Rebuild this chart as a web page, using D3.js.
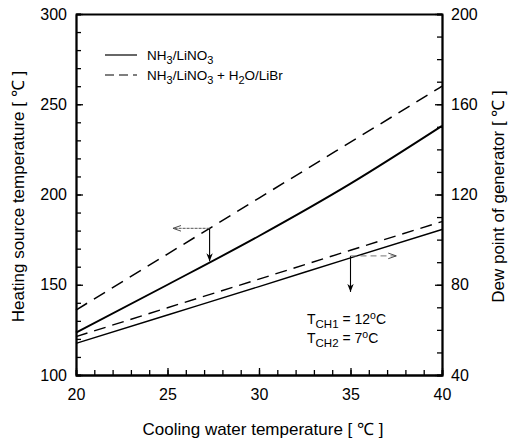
<!DOCTYPE html>
<html>
<head>
<meta charset="utf-8">
<script src="https://cdn.jsdelivr.net/npm/d3@7"></script>
<style>
body{margin:0;background:#fff;}
svg{display:block;font-family:"Liberation Sans",Arial,sans-serif;}
</style>
</head>
<body>
<svg id="c" width="514" height="444"></svg>
<script>
const coolingTemp = [20, 25, 30, 35, 40];
const heatSolid = [123.5, 150, 177, 206, 238];
const heatDashed = [136, 167, 198, 229, 260];
const dewSolid = [54, 66.6, 79.2, 91.9, 104.5];
const dewDashed = [57, 69.8, 82.5, 95.3, 108];
const xTicks = [20, 25, 30, 35, 40];
const leftTicks = [100, 150, 200, 250, 300];
const rightTicks = [40, 80, 120, 160, 200];

const svg = d3.select("#c");
const L = 76, R = 442, T = 14, B = 375;
const x = d3.scaleLinear().domain([20, 40]).range([L, R]);
const yL = d3.scaleLinear().domain([100, 300]).range([B, T]);
const yR = d3.scaleLinear().domain([40, 200]).range([B, T]);

const g = svg.append("g");
function styleAxis(sel, fs){
  sel.selectAll("path").attr("stroke","#000").attr("stroke-width",1.8);
  sel.selectAll("line").attr("stroke","#000").attr("stroke-width",1.3);
  sel.selectAll("text").attr("font-size",fs).attr("fill","#000").attr("font-family","Liberation Sans, Arial, sans-serif");
}
// minor ticks
g.append("g").attr("transform",`translate(0,${B})`)
  .call(d3.axisBottom(x).tickValues(d3.range(20,41,1)).tickSize(-5).tickFormat(""))
  .call(s=>styleAxis(s,14));
g.append("g").attr("transform",`translate(${L},0)`)
  .call(d3.axisLeft(yL).tickValues(d3.range(100,301,10)).tickSize(-5).tickFormat(""))
  .call(s=>styleAxis(s,14));
g.append("g").attr("transform",`translate(${R},0)`)
  .call(d3.axisRight(yR).tickValues(d3.range(40,201,10)).tickSize(-5).tickFormat(""))
  .call(s=>styleAxis(s,14));
g.append("g").attr("transform",`translate(0,${T})`)
  .call(d3.axisTop(x).tickValues([]).tickSizeOuter(0))
  .call(s=>styleAxis(s,14));
// major with labels
g.append("g").attr("transform",`translate(0,${B})`)
  .call(d3.axisBottom(x).tickValues(xTicks).tickSize(-7).tickSizeOuter(0).tickPadding(14).tickFormat(d3.format("d")))
  .call(s=>styleAxis(s,16));
g.append("g").attr("transform",`translate(${L},0)`)
  .call(d3.axisLeft(yL).tickValues(leftTicks).tickSize(-7).tickSizeOuter(0).tickPadding(9).tickFormat(d3.format("d")))
  .call(s=>styleAxis(s,16));
g.append("g").attr("transform",`translate(${R},0)`)
  .call(d3.axisRight(yR).tickValues(rightTicks).tickSize(-7).tickSizeOuter(0).tickPadding(9).tickFormat(d3.format("d")))
  .call(s=>styleAxis(s,16));

// lines
const lineL = d3.line().x((d,i)=>x(coolingTemp[i])).y(d=>yL(d)).curve(d3.curveMonotoneX);
const lineR = d3.line().x((d,i)=>x(coolingTemp[i])).y(d=>yR(d)).curve(d3.curveMonotoneX);
g.append("path").attr("d",lineL(heatSolid)).attr("fill","none").attr("stroke","#000").attr("stroke-width",1.9);
g.append("path").attr("d",lineL(heatDashed)).attr("fill","none").attr("stroke","#000").attr("stroke-width",1.5).attr("stroke-dasharray","13,8");
g.append("path").attr("d",lineR(dewSolid)).attr("fill","none").attr("stroke","#000").attr("stroke-width",1.4);
g.append("path").attr("d",lineR(dewDashed)).attr("fill","none").attr("stroke","#000").attr("stroke-width",1.4).attr("stroke-dasharray","12,7");

// arrows
const defs = svg.append("defs");
defs.append("marker").attr("id","ah").attr("viewBox","0 0 10 10").attr("refX",10).attr("refY",5)
  .attr("markerWidth",8).attr("markerHeight",9).attr("orient","auto-start-reverse").attr("markerUnits","userSpaceOnUse")
  .append("path").attr("d","M0,1 L10,5 L0,9 L3,5 Z").attr("fill","#000");
defs.append("marker").attr("id","ah2").attr("viewBox","0 0 10 10").attr("refX",10).attr("refY",5)
  .attr("markerWidth",12).attr("markerHeight",8).attr("orient","auto").attr("markerUnits","userSpaceOnUse")
  .append("path").attr("d","M0,1.5 L10,5 L0,8.5").attr("fill","none").attr("stroke","#444").attr("stroke-width",1.2);

// arrow 1 (heating source -> left axis)
const ax1 = 27.3;
const ay1 = yL(d3.interpolateNumber(167,198)((ax1-25)/5));
const ay1b = yL(d3.interpolateNumber(150,177)((ax1-25)/5));
g.append("line").attr("x1",x(ax1)).attr("y1",ay1).attr("x2",x(ax1)).attr("y2",ay1b-1)
  .attr("stroke","#000").attr("stroke-width",1.1).attr("marker-end","url(#ah)");
g.append("line").attr("x1",x(ax1)).attr("y1",ay1).attr("x2",x(25.3)).attr("y2",ay1)
  .attr("stroke","#555").attr("stroke-width",1).attr("stroke-dasharray","3,1").attr("marker-end","url(#ah2)");

// arrow 2 (dew point -> right axis)
const ax2 = 35;
const ay2 = yR(91.9)-2;
g.append("line").attr("x1",x(ax2)).attr("y1",ay2).attr("x2",x(ax2)).attr("y2",ay2+36)
  .attr("stroke","#000").attr("stroke-width",1.1).attr("marker-end","url(#ah)");
g.append("line").attr("x1",x(ax2)).attr("y1",ay2).attr("x2",x(37.5)).attr("y2",ay2)
  .attr("stroke","#777").attr("stroke-width",1).attr("stroke-dasharray","6,4").attr("marker-end","url(#ah2)");

// legend
const lg = g.append("g");
lg.append("line").attr("x1",105).attr("x2",137).attr("y1",55).attr("y2",55).attr("stroke","#000").attr("stroke-width",1.2);
lg.append("line").attr("x1",105).attr("x2",137).attr("y1",75).attr("y2",75).attr("stroke","#000").attr("stroke-width",1.2).attr("stroke-dasharray","9,5");
const t1 = lg.append("text").attr("x",147).attr("y",60).attr("font-size",13.5);
t1.append("tspan").text("NH");
t1.append("tspan").attr("dy",4).attr("font-size",11).text("3");
t1.append("tspan").attr("dy",-4).text("/LiNO");
t1.append("tspan").attr("dy",4).attr("font-size",11).text("3");
const t2 = lg.append("text").attr("x",147).attr("y",80).attr("font-size",13.5);
t2.append("tspan").text("NH");
t2.append("tspan").attr("dy",4).attr("font-size",11).text("3");
t2.append("tspan").attr("dy",-4).text("/LiNO");
t2.append("tspan").attr("dy",4).attr("font-size",11).text("3");
t2.append("tspan").attr("dy",-4).text(" + H");
t2.append("tspan").attr("dy",4).attr("font-size",11).text("2");
t2.append("tspan").attr("dy",-4).text("O/LiBr");

// T_CH annotations
function tch(y, sub, val){
  const t = g.append("text").attr("x",307).attr("y",y).attr("font-size",14);
  t.append("tspan").text("T");
  t.append("tspan").attr("dy",4).attr("font-size",11.5).text(sub);
  t.append("tspan").attr("dy",-4).text(" = "+val);
  t.append("tspan").attr("dy",-5).attr("font-size",10.5).text("o");
  t.append("tspan").attr("dy",5).text("C");
}
tch(324, "CH1", "12");
tch(343, "CH2", "7");

// axis titles
svg.append("text").attr("x",(L+R)/2+4).attr("y",435).attr("text-anchor","middle").attr("font-size",17).text("Cooling water temperature [ ℃ ]");
svg.append("text").attr("transform",`translate(24,${(T+B)/2+2}) rotate(-90)`).attr("text-anchor","middle").attr("font-size",17).text("Heating source temperature [ ℃ ]");
svg.append("text").attr("transform",`translate(504,${(T+B)/2+2}) rotate(-90)`).attr("text-anchor","middle").attr("font-size",17).text("Dew point of generator [ ℃ ]");
</script>
</body>
</html>
